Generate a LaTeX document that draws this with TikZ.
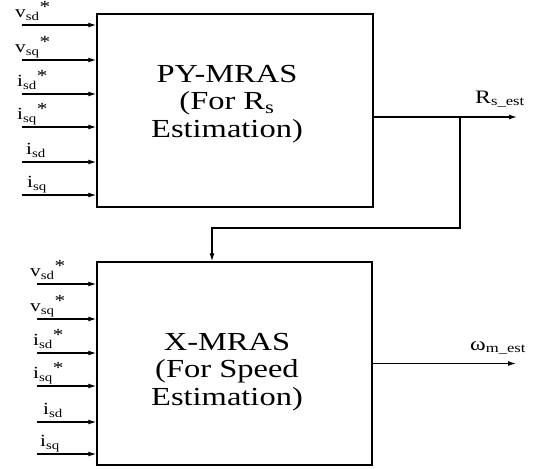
\documentclass[tikz,border=0pt]{standalone}
\usepackage{fontspec}
\setmainfont{Liberation Serif}[FakeStretch=1.25]
\usepackage{tikz}
\usetikzlibrary{arrows.meta,positioning}
\newcommand{\st}{\raisebox{0.28em}{*}}

\begin{document}
\begin{tikzpicture}[x=1pt, y=-1pt,
  blk/.style={draw, line width=1.5pt, inner sep=0pt},
  blktxt/.style={align=center, font=\fontsize{26}{27.5}\selectfont, inner sep=0pt},
  sig/.style={-{Latex[length=8pt,width=5pt]}, line width=1.2pt},
  lbl/.style={anchor=base west, inner sep=0pt,
              font=\fontsize{17}{18}\selectfont},
  olbl/.style={anchor=base west, inner sep=0pt,
              font=\fontsize{19}{20}\selectfont},
]
  \useasboundingbox (0,0) rectangle (547,469);
  % estimator blocks
  \node[blk, minimum width=276pt, minimum height=193pt] (py) at (235,110.5) {};
  \node[blk, minimum width=275pt, minimum height=203pt] (xm) at (234.5,363.5) {};
  \node[blktxt] (pytxt) at (227,104) {PY-MRAS\\(For R\textsubscript{s}\\Estimation)};
  \node[blktxt] (xmtxt) at (227,372) {X-MRAS\\(For Speed\\Estimation)};
  % inputs of PY-MRAS
  \foreach \y/\lx/\t [count=\i] in {25/15/{v\textsubscript{sd}\st},
      60/15/{v\textsubscript{sq}\st},
      94/17/{i\textsubscript{sd}\st},
      127/17/{i\textsubscript{sq}\st},
      162/26/{i\textsubscript{sd}}, 195/27/{i\textsubscript{sq}}} {
    \coordinate (pin\i) at (22,\y);
    \node[lbl] (plbl\i) at (\lx,\y-7.5) {\t};
    \draw[sig] (pin\i) -- (pin\i -| py.west);
  }
  % inputs of X-MRAS
  \foreach \y/\lx/\t [count=\i] in {284/30/{v\textsubscript{sd}\st},
      319/30/{v\textsubscript{sq}\st},
      353/33/{i\textsubscript{sd}\st},
      386/33/{i\textsubscript{sq}\st},
      422/43/{i\textsubscript{sd}}, 454/40/{i\textsubscript{sq}}} {
    \coordinate (xin\i) at (37,\y);
    \node[lbl] (xlbl\i) at (\lx,\y-7.5) {\t};
    \draw[sig] (xin\i) -- (xin\i -| xm.west);
  }
  % Rs estimate, fed back to X-MRAS
  \coordinate (tap) at (460,117);
  \coordinate (rsend) at (517,117);
  \coordinate (bend) at (212,228);
  \draw[sig] (py.east |- tap) -- (rsend);
  \node[olbl] (rslbl) at (475,103) {R\textsubscript{s\_est}};
  \draw[sig] (tap) |- (bend) -- (bend |- xm.north);
  % speed estimate
  \coordinate (wend) at (516,363.5);
  \draw[sig] (xm.east) -- (wend);
  \node[olbl] (wlbl) at (470,350) {ω\textsubscript{m\_est}};
\end{tikzpicture}
\end{document}
